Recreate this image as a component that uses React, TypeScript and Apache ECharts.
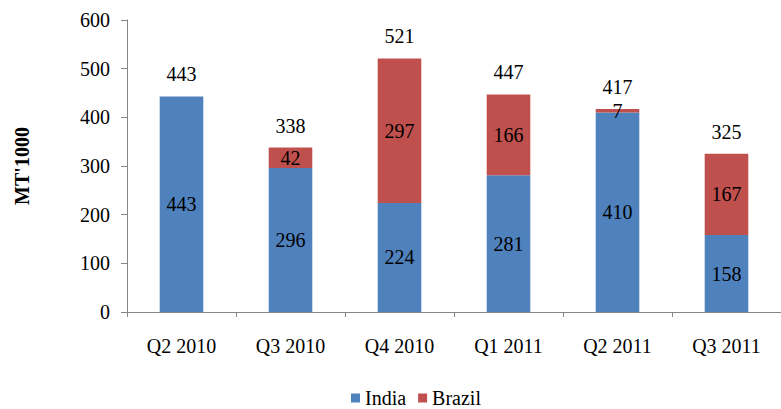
import React, { useEffect, useRef } from "react";
import * as echarts from "echarts";

const categories = ["Q2 2010", "Q3 2010", "Q4 2010", "Q1 2011", "Q2 2011", "Q3 2011"];
const india = [443, 296, 224, 281, 410, 158];
const brazil = [0, 42, 297, 166, 7, 167];
const totals = [443, 338, 521, 447, 417, 325];
const yTicks = [0, 100, 200, 300, 400, 500, 600];

const FONT = "'Liberation Serif', 'Times New Roman', serif";

export default function App() {
  const ref = useRef<HTMLDivElement>(null);
  useEffect(() => {
    document.body.style.margin = "0";
    const chart = echarts.init(ref.current!, null, { renderer: "svg" });
    chart.setOption({
      animation: false,
      textStyle: { fontFamily: FONT, color: "#000" },
      legend: {
        data: ["India", "Brazil"],
        left: 346,
        top: 383,
        itemWidth: 9,
        itemHeight: 9,
        itemGap: 12,
        icon: "rect",
        textStyle: { fontFamily: FONT, fontSize: 20, color: "#000" },
      },
      grid: { left: 127, top: 20, width: 666, height: 292, containLabel: false },
      xAxis: {
        type: "category",
        data: categories,
        axisLine: { lineStyle: { color: "#868686", width: 1 } },
        axisTick: { show: true, length: 5, lineStyle: { color: "#868686" } },
        axisLabel: { fontFamily: FONT, fontSize: 20, color: "#000", margin: 24 },
      },
      yAxis: {
        type: "value",
        min: yTicks[0],
        max: yTicks[yTicks.length - 1],
        interval: 100,
        name: "MT'1000",
        nameLocation: "middle",
        nameGap: 95,
        nameRotate: 90,
        nameTextStyle: { fontFamily: FONT, fontSize: 20, fontWeight: "bold", color: "#000" },
        splitLine: { show: false },
        axisLine: { show: true, lineStyle: { color: "#868686", width: 1 } },
        axisTick: { show: true, length: 6, lineStyle: { color: "#868686" } },
        axisLabel: { fontFamily: FONT, fontSize: 20, color: "#000", margin: 17 },
      },
      series: [
        {
          name: "India",
          type: "bar",
          stack: "s",
          barWidth: "40%",
          data: india,
          itemStyle: { color: "#4F81BD" },
          label: { show: true, position: "inside", fontFamily: FONT, fontSize: 20, color: "#000" },
        },
        {
          name: "Brazil",
          type: "bar",
          stack: "s",
          barWidth: "40%",
          data: brazil,
          itemStyle: { color: "#C0504D" },
          label: {
            show: true,
            position: "inside",
            fontFamily: FONT,
            fontSize: 20,
            color: "#000",
            formatter: (p: any) => (p.value ? String(p.value) : ""),
          },
        },
        {
          name: "Total",
          type: "bar",
          barGap: "-100%",
          barWidth: "40%",
          data: totals,
          z: -1,
          itemStyle: { color: "rgba(0,0,0,0)" },
          label: { show: true, position: "top", distance: 12, fontFamily: FONT, fontSize: 20, color: "#000" },
          silent: true,
        },
      ],
    });
    return () => chart.dispose();
  }, []);
  return <div ref={ref} style={{ width: 781, height: 409 }} />;
}
